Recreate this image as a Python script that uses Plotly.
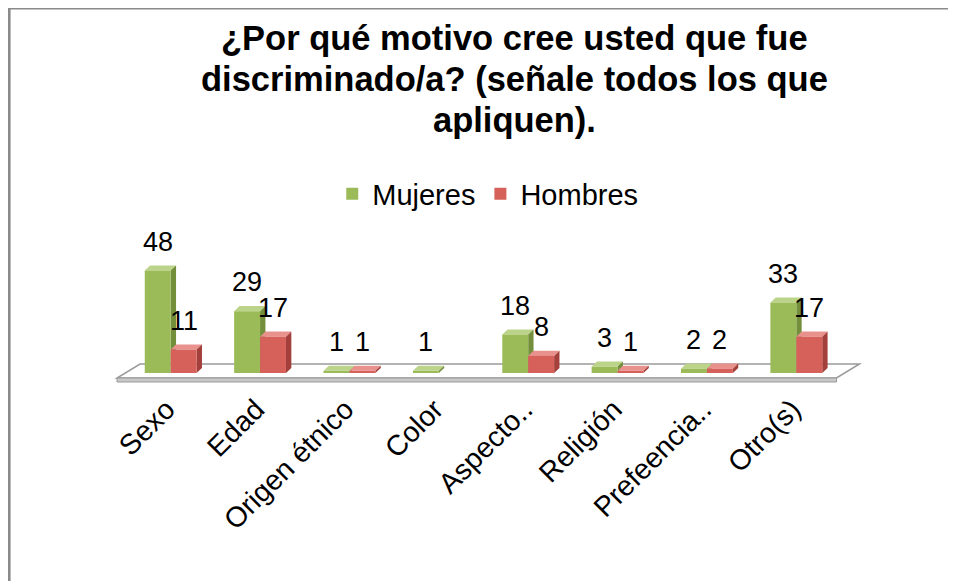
import plotly.graph_objects as go

categories = ["Sexo", "Edad", "Origen étnico", "Color", "Aspecto..", "Religión", "Prefeencia..", "Otro(s)"]
mujeres = [48, 29, 1, 1, 18, 3, 2, 33]
hombres = [11, 17, 1, None, 8, 1, 2, 17]
series_names = ["Mujeres", "Hombres"]
title_lines = ["¿Por qué motivo cree usted que fue", "discriminado/a? (señale todos los que", "apliquen)."]

W, H = 956, 581
OFF = 8  # page offset of the figure in the window
# plot area in window pixels
PL, PR, PT, PB = 126, 841.5, 245, 373
ML, MR = PL - OFF, W - (PR - OFF)
MT, MB = PT - OFF, H - (PB - OFF)
PW, PH = PR - PL, PB - PT
YMAX = 60

def xp(px):
    return (px - PL) / PW

def yp(py):
    return (PB - py) / PH

GREEN = dict(front="#9BBB59", top="#BCD38A", side="#748F3C")
RED = dict(front="#D6605A", top="#E9928D", side="#A4403B")

BARGAP = 0.42
bw = (1 - BARGAP) / 2
DX, DY = 0.06, 2.4
FONT = "Liberation Sans, Arial"

fig = go.Figure()
shapes = []

# floor (3D platform)
fl = [(117, 378), (837, 378), (860, 364), (140, 364)]
shapes.append(dict(type="path", xref="paper", yref="paper", layer="below",
                   path="M {} {} L {} {} L {} {} L {} {} Z".format(*[v for p in fl for v in (xp(p[0]), yp(p[1]))]),
                   fillcolor="#FFFFFF", line=dict(color="#9A9A9A", width=1.5)))
shapes.append(dict(type="path", xref="paper", yref="paper", layer="below",
                   path="M {} {} L {} {} L {} {} L {} {} Z".format(xp(117), yp(378), xp(837), yp(378),
                                                                  xp(837), yp(382), xp(117), yp(382)),
                   fillcolor="#C8C8C8", line=dict(color="#9A9A9A", width=1)))

annotations = []
for s, (name, vals, col, off) in enumerate([(series_names[0], mujeres, GREEN, -bw / 2),
                                            (series_names[1], hombres, RED, bw / 2)]):
    fig.add_trace(go.Bar(
        x=list(range(len(categories))), y=[v if v is not None else 0 for v in vals],
        name=name, marker=dict(color=col["front"], line=dict(width=0)),
        hoverinfo="skip",
    ))
    for i, v in enumerate(vals):
        if v is None:
            continue
        x0 = i + off - bw / 2
        x1 = i + off + bw / 2
        shapes.append(dict(type="path", xref="x", yref="y", layer="below",
                           path=f"M {x0} {v} L {x1} {v} L {x1+DX} {v+DY} L {x0+DX} {v+DY} Z",
                           fillcolor=col["top"], line=dict(width=0)))
        shapes.append(dict(type="path", xref="x", yref="y", layer="below",
                           path=f"M {x1} 0 L {x1} {v} L {x1+DX} {v+DY} L {x1+DX} {DY} Z",
                           fillcolor=col["side"], line=dict(width=0)))
        annotations.append(dict(x=i + off, y=v, xref="x", yref="y", text=str(v), showarrow=False,
                                yanchor="middle", yshift=29,
                                font=dict(family=FONT, size=27, color="#000000")))

for k, (line, ty) in enumerate(zip(title_lines, [38, 79, 120])):
    annotations.append(dict(x=xp(515), y=yp(ty), xref="paper", yref="paper", text=line,
                            showarrow=False, xanchor="center", yanchor="middle",
                            font=dict(family=FONT, size=34.5, color="#000000", weight="bold")))

# chart border (top and left)
shapes.append(dict(type="line", xref="paper", yref="paper", x0=xp(9), y0=yp(8), x1=xp(970), y1=yp(8),
                   line=dict(color="#8A8A8A", width=3)))
shapes.append(dict(type="line", xref="paper", yref="paper", x0=xp(9), y0=yp(8), x1=xp(9), y1=yp(600),
                   line=dict(color="#8A8A8A", width=3)))

fig.update_layout(
    width=W, height=H, margin=dict(l=ML, r=MR, t=MT, b=MB, autoexpand=False),
    paper_bgcolor="#FFFFFF", plot_bgcolor="rgba(0,0,0,0)",
    barmode="group", bargap=BARGAP, bargroupgap=0,
    showlegend=True,
    legend=dict(orientation="h", x=xp(488), y=yp(194), xanchor="center", yanchor="middle",
                font=dict(family=FONT, size=29, color="#000000"),
                bgcolor="rgba(0,0,0,0)", itemwidth=30),
    shapes=shapes, annotations=annotations,
    xaxis=dict(range=[-0.5, len(categories) - 0.5], tickmode="array",
               tickvals=list(range(len(categories))), ticktext=categories,
               tickangle=-45, showgrid=False, zeroline=False, showline=False, ticks="",
               ticklabelshift=-4, ticklabelstandoff=13,
               tickfont=dict(family=FONT, size=28.5, color="#000000")),
    yaxis=dict(range=[0, YMAX], visible=False, showgrid=False, zeroline=False),
)

fig.write_html("out.html")
